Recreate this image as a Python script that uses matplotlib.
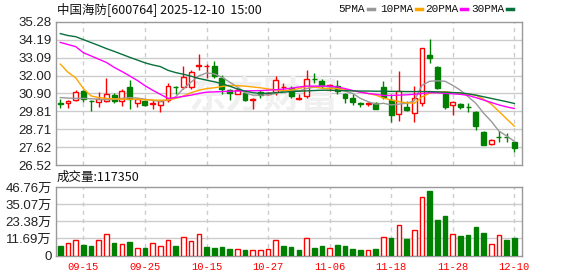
import numpy as np
import matplotlib
matplotlib.use("Agg")
import matplotlib.pyplot as plt

# --- data ---
dates = ["09-10", "09-11", "09-12", "09-15", "09-16", "09-17", "09-18", "09-19", "09-22", "09-23",
         "09-24", "09-25", "09-26", "09-29", "09-30", "10-09", "10-10", "10-13", "10-14", "10-15",
         "10-16", "10-17", "10-20", "10-21", "10-22", "10-23", "10-24", "10-27", "10-28", "10-29",
         "10-30", "10-31", "11-03", "11-04", "11-05", "11-06", "11-07", "11-10", "11-11", "11-12",
         "11-13", "11-14", "11-17", "11-18", "11-19", "11-20", "11-21", "11-24", "11-25", "11-26",
         "11-27", "11-28", "12-01", "12-02", "12-03", "12-04", "12-05", "12-08", "12-09", "12-10"]

opens = [30.30, 30.29, 30.49, 31.03, 30.43, 30.35, 30.41, 30.79, 30.41, 31.29,
         30.29, 30.41, 30.27, 30.21, 30.49, 31.32, 31.29, 31.29, 32.56, 32.56,
         32.60, 31.82, 31.09, 30.89, 30.95, 30.53, 31.01, 30.89, 31.01, 31.27,
         31.25, 30.59, 30.75, 31.81, 31.69, 31.39, 31.35, 30.85, 30.61, 30.31,
         30.23, 30.29, 31.29, 30.49, 29.64, 30.08, 29.68, 30.29, 33.26, 32.50,
         30.85, 30.20, 30.25, 30.10, 29.78, 28.53, 27.79, 28.25, 28.25, 27.93]
closes = [30.28, 30.41, 31.01, 30.55, 30.41, 30.59, 30.85, 30.41, 31.07, 30.55,
          30.57, 30.21, 30.33, 30.41, 31.37, 31.30, 31.94, 32.22, 32.66, 32.58,
          31.96, 31.15, 30.93, 31.09, 30.49, 30.59, 30.81, 30.93, 31.73, 31.31,
          30.75, 30.61, 31.79, 31.77, 31.39, 31.43, 31.05, 30.61, 30.35, 30.27,
          30.29, 29.98, 30.69, 29.60, 31.05, 29.90, 30.61, 33.67, 33.06, 31.25,
          30.08, 30.35, 30.08, 30.06, 28.88, 27.77, 28.07, 28.23, 28.21, 27.59]
highs = [30.55, 30.51, 31.13, 31.09, 30.49, 31.01, 31.85, 30.91, 31.15, 31.72,
         30.65, 30.49, 30.51, 30.51, 31.52, 31.38, 32.60, 32.36, 33.30, 32.70,
         32.90, 32.06, 31.15, 31.21, 31.01, 30.61, 31.09, 31.01, 31.96, 31.52,
         31.35, 30.85, 32.36, 32.16, 31.81, 31.49, 31.75, 30.95, 30.85, 30.39,
         30.35, 30.35, 31.69, 30.85, 32.30, 30.41, 31.39, 33.70, 34.23, 32.56,
         30.95, 30.45, 30.29, 30.29, 29.84, 28.60, 28.13, 28.59, 28.49, 27.99]
lows = [30.00, 30.00, 30.41, 30.35, 29.84, 30.08, 30.35, 30.29, 30.14, 29.94,
        30.08, 30.16, 29.98, 29.75, 30.35, 30.85, 31.15, 31.15, 32.36, 31.86,
        31.82, 30.85, 30.49, 30.85, 30.41, 29.94, 30.65, 30.81, 30.81, 31.10,
        30.65, 30.49, 30.65, 31.55, 31.21, 31.05, 30.85, 30.29, 30.21, 30.10,
        30.14, 29.94, 30.55, 29.14, 29.24, 29.84, 29.14, 30.14, 32.76, 31.15,
        29.98, 29.60, 29.94, 29.74, 28.68, 27.77, 27.73, 27.93, 27.93, 27.33]
prev_close = 30.35  # close of the day before the window

# volume in units of 10k shares (万)
volumes = [6.5, 8.5, 10.6, 7.2, 6.5, 10.6, 14.5, 8.5, 7.85, 9.2,
           5.1, 5.1, 8.3, 6.5, 10.4, 6.5, 12.4, 9.9, 14.5, 5.8,
           5.1, 5.8, 4.4, 4.4, 3.75, 3.6, 3.6, 4.2, 10.4, 6.5,
           5.8, 3.75, 11.7, 5.1, 6.5, 5.1, 7.2, 6.5, 4.4, 3.75,
           3.6, 4.4, 12.4, 12.0, 20.8, 11.3, 17.2, 39.7, 44.0, 24.2,
           27.0, 14.5, 13.3, 13.8, 19.5, 15.6, 7.85, 13.8, 10.6, 11.735]

ma5 = [30.65, 30.62, 30.60, 30.60, 30.58, 30.55, 30.52, 30.55, 30.60, 30.65,
       30.62, 30.55, 30.48, 30.42, 30.50, 30.70, 31.20, 31.60, 31.98, 32.16,
       32.10, 31.90, 31.60, 31.30, 30.95, 30.80, 30.80, 30.82, 30.90, 31.05,
       31.10, 31.05, 31.20, 31.30, 31.35, 31.30, 31.20, 31.05, 30.90, 30.60,
       30.40, 30.25, 30.30, 30.20, 30.25, 30.30, 30.45, 31.40, 31.65, 31.68,
       31.65, 31.40, 31.10, 30.70, 30.30, 29.70, 29.20, 28.60, 28.30, 27.97]
ma10 = [32.70, 32.20, 31.86, 31.20, 30.75, 30.65, 30.60, 30.57, 30.55, 30.55,
        30.55, 30.52, 30.50, 30.49, 30.50, 30.60, 30.75, 30.95, 31.10, 31.20,
        31.25, 31.33, 31.39, 31.38, 31.35, 31.30, 31.25, 31.18, 31.12, 31.08,
        31.10, 31.20, 31.33, 31.30, 31.22, 31.20, 31.20, 31.15, 31.07, 31.00,
        30.90, 30.80, 30.62, 30.50, 30.40, 30.33, 30.30, 30.69, 30.92, 30.98,
        31.01, 30.95, 30.90, 30.86, 30.80, 30.55, 30.25, 29.80, 29.35, 28.90]
ma20 = [34.03, 33.90, 33.77, 33.40, 33.20, 33.00, 32.80, 32.50, 32.25, 31.98,
        31.70, 31.38, 31.10, 30.85, 30.60, 30.65, 30.72, 30.80, 30.90, 30.98,
        31.00, 31.02, 31.04, 31.05, 31.06, 31.07, 31.08, 31.10, 31.13, 31.17,
        31.22, 31.30, 31.35, 31.35, 31.35, 31.35, 31.30, 31.20, 31.08, 30.98,
        30.90, 30.85, 30.78, 30.78, 30.80, 30.82, 30.85, 30.90, 30.95, 30.94,
        30.91, 30.88, 30.85, 30.78, 30.65, 30.50, 30.35, 30.20, 30.08, 29.98]
ma30 = [34.57, 34.45, 34.38, 34.20, 34.02, 33.84, 33.65, 33.48, 33.30, 33.12,
        32.95, 32.78, 32.65, 32.55, 32.32, 32.18, 32.08, 31.96, 31.82, 31.72,
        31.62, 31.50, 31.35, 31.18, 31.05, 30.95, 30.90, 30.92, 30.95, 30.98,
        31.02, 31.04, 31.06, 31.08, 31.10, 31.10, 31.08, 31.07, 31.06, 31.05,
        31.05, 31.04, 31.04, 31.03, 31.03, 31.02, 31.02, 31.02, 31.02, 31.00,
        30.98, 30.96, 30.94, 30.88, 30.80, 30.70, 30.60, 30.50, 30.40, 30.29]

price_ticks = [35.28, 34.19, 33.09, 32.00, 30.90, 29.81, 28.71, 27.62, 26.52]
vol_ticks = [0, 11.69, 23.38, 35.07, 46.76]
vol_tick_labels = ["0", "11.69万", "23.38万", "35.07万", "46.76万"]
date_tick_idx = [3, 11, 19, 27, 35, 43, 51, 59]

ma_names = ["5PMA", "10PMA", "20PMA", "30PMA"]
ma_colors = ["#999999", "#ffa500", "#ff00ff", "#08703c"]

RED = "#ff0000"
GREEN = "#008000"
W, H = 578, 276


def px_box(left, top, right, bottom):
    # pixel box -> figure fraction rect
    return [left / W, 1 - bottom / H, (right - left) / W, (bottom - top) / H]


def style_axes(ax):
    for s in ax.spines.values():
        s.set_color("#999999")
        s.set_linewidth(1.0)
    ax.tick_params(length=0, pad=3)
    ax.set_xlim(-0.56, 60.0)
    ax.set_xticks([])
    for i in date_tick_idx:
        ax.axvline(i, color="#cccccc", linestyle=(0, (3, 3)), linewidth=1.0, zorder=0)


def main():
    plt.rcParams["font.family"] = ["Liberation Sans", "Noto Sans CJK SC"]
    fig = plt.figure(figsize=(W / 100, H / 100), dpi=100)
    fig.patch.set_facecolor("white")

    n = len(closes)
    x = np.arange(n)
    o = np.array(opens)
    c = np.array(closes)
    hi = np.array(highs)
    lo = np.array(lows)
    up = c >= o

    # ---- price panel ----
    ax = fig.add_axes(px_box(56, 22, 522, 165))
    style_axes(ax)
    ax.set_ylim(price_ticks[-1], price_ticks[0])
    ax.set_yticks(price_ticks)
    ax.set_yticklabels([f"{t:.2f}" for t in price_ticks], fontsize=9.5, color="#222222")
    for t in price_ticks[1:-1]:
        ax.axhline(t, color="#cccccc", linewidth=1.0, zorder=0)

    # watermark
    ax.text(26.5, 30.7, "东方财富", fontsize=27, color="#f0f0f0", ha="center", va="center",
            fontweight="bold", family=["Noto Sans CJK SC"], zorder=0.5)

    body_w = 0.64
    top = np.maximum(o, c)
    bot = np.minimum(o, c)
    hgt = np.maximum(top - bot, 0.025)
    # wicks
    ax.vlines(x, top, hi, color=np.where(up, RED, GREEN), linewidth=1.0, zorder=2)
    ax.vlines(x, lo, bot, color=np.where(up, RED, GREEN), linewidth=1.0, zorder=2)
    ax.bar(x[up], hgt[up], bottom=bot[up], width=body_w, facecolor="white",
           edgecolor=RED, linewidth=1.0, zorder=3)
    ax.bar(x[~up], hgt[~up], bottom=bot[~up], width=body_w, facecolor=GREEN,
           edgecolor=GREEN, linewidth=1.0, zorder=3)

    for ma, col in zip([ma5, ma10, ma20, ma30], ma_colors):
        ax.plot(x, ma, color=col, linewidth=1.0, zorder=4)

    # ---- volume panel ----
    axv = fig.add_axes(px_box(56, 187, 522, 255.5))
    style_axes(axv)
    axv.set_ylim(0, vol_ticks[-1])
    axv.set_yticks(vol_ticks)
    axv.set_yticklabels(vol_tick_labels, fontsize=9.5, color="#222222")
    for t in vol_ticks[1:-1]:
        axv.axhline(t, color="#cccccc", linewidth=1.0, zorder=0)
    prev = np.concatenate([[prev_close], c[:-1]])
    vup = c > prev
    v = np.array(volumes)
    axv.bar(x[vup], v[vup], width=0.6, facecolor="white", edgecolor=RED, linewidth=1.0, zorder=3)
    axv.bar(x[~vup], v[~vup], width=0.6, facecolor=GREEN, edgecolor=GREEN, linewidth=1.0, zorder=3)

    for i in date_tick_idx:
        axv.text(i, -0.17, dates[i], transform=axv.get_xaxis_transform(), ha="center", va="center",
                 color=RED, fontsize=7.6, family=["Liberation Mono"])

    # ---- header texts ----
    fig.text(57 / W, 1 - 9 / H, "中国海防[600764] 2025-12-10  15:00", fontsize=9,
             va="center", ha="left", color="#111111", family=["Noto Sans CJK SC", "DejaVu Sans"])
    fig.text(57 / W, 1 - 177 / H, f"成交量:{int(round(volumes[-1] * 10000))}", fontsize=9,
             va="center", ha="left", color="#111111", family=["Noto Sans CJK SC", "DejaVu Sans"])

    # MA legend
    lx = [338, 380, 425, 471]
    for name, col, px in zip(ma_names, ma_colors, lx):
        t = fig.text(px / W, 1 - 9 / H, name, fontsize=8, va="center", ha="left",
                     color="#111111", family=["Liberation Mono"])
        fig.canvas.draw()
        bb = t.get_window_extent()
        fig.add_artist(plt.Line2D([(bb.x1 + 3) / W, (bb.x1 + 9) / W], [1 - 9 / H, 1 - 9 / H],
                                  color=col, linewidth=2.5, transform=fig.transFigure))

    fig.savefig("out.png", dpi=100)


if __name__ == "__main__":
    main()
